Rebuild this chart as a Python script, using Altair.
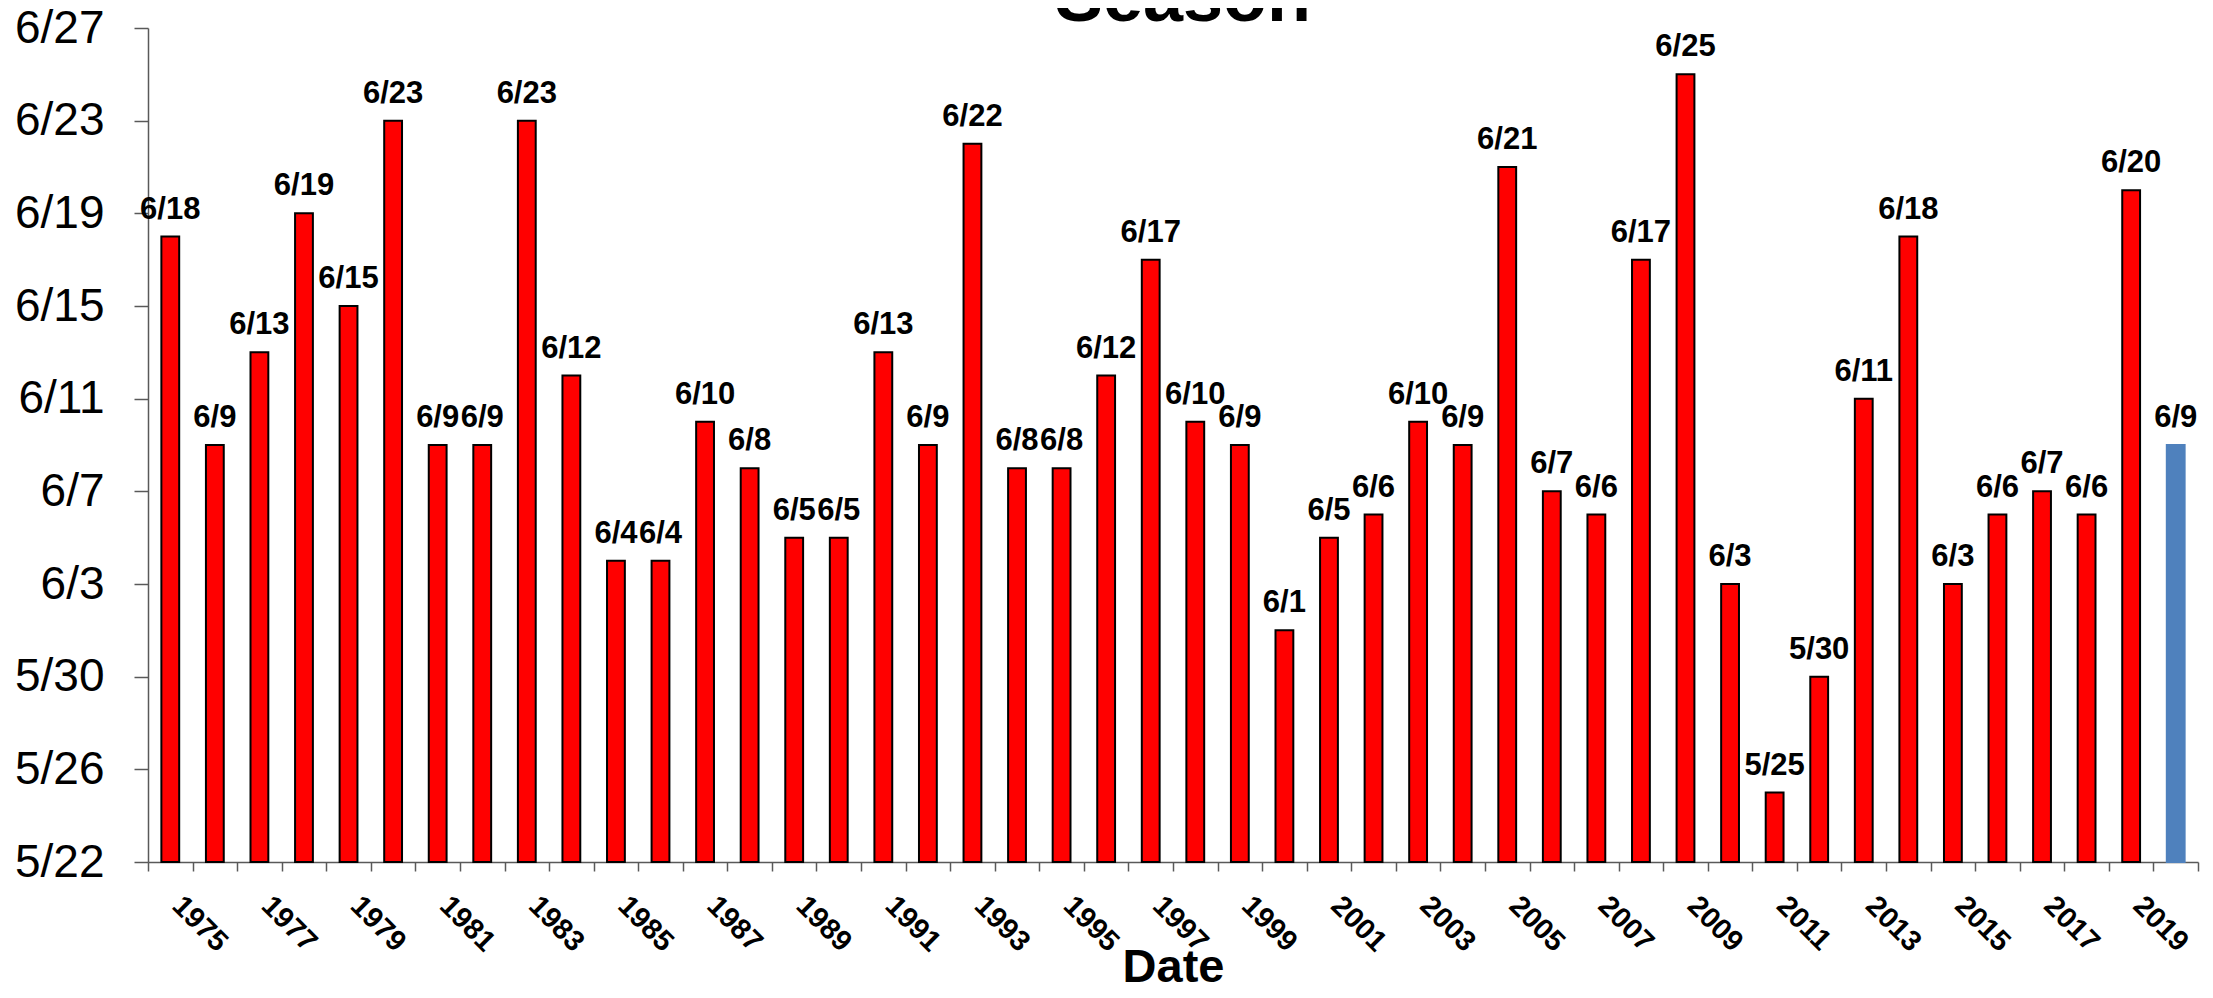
import altair as alt
import pandas as pd

# ---- data ----
title_text = ["Season"]
years = list(range(1975, 2021))
dates = ["6/18", "6/9", "6/13", "6/19", "6/15", "6/23", "6/9", "6/9", "6/23", "6/12",
         "6/4", "6/4", "6/10", "6/8", "6/5", "6/5", "6/13", "6/9", "6/22", "6/8",
         "6/8", "6/12", "6/17", "6/10", "6/9", "6/1", "6/5", "6/6", "6/10", "6/9",
         "6/21", "6/7", "6/6", "6/17", "6/25", "6/3", "5/25", "5/30", "6/11", "6/18",
         "6/3", "6/6", "6/7", "6/6", "6/20", "6/9"]
current_year = 2020
y_ticks = ["5/22", "5/26", "5/30", "6/3", "6/7", "6/11", "6/15", "6/19", "6/23", "6/27"]


def iso(md):
    m, d = md.split("/")
    return f"2000-{int(m):02d}-{int(d):02d}"


def dt(md):
    m, d = md.split("/")
    return alt.DateTime(year=2000, month=int(m), date=int(d), utc=True)


df = pd.DataFrame({
    "year": years,
    "date": [iso(x) for x in dates],
    "label": dates,
    "series": ["Current" if y == current_year else "Past" for y in years],
})

FONT = "Liberation Sans"
AXIS_COLOR = "#595959"
W, H = 2050, 834

x_enc = alt.X(
    "year:O",
    scale=alt.Scale(paddingInner=0, paddingOuter=0),
    axis=alt.Axis(
        title="Date",
        labelExpr="datum.value % 2 == 1 ? datum.label : ''",
        labelAngle=45,
        labelAlign="left",
        labelBaseline="alphabetic",
        labelFont=FONT,
        labelFontWeight="bold",
        labelFontSize=29,
        labelColor="black",
        labelPadding=36,
        labelOverlap=False,
        labelBound=False,
        tickSize=9,
        tickBand="extent",
        tickColor=AXIS_COLOR,
        tickWidth=1.5,
        domainColor=AXIS_COLOR,
        domainWidth=1.5,
        grid=False,
        titleFont=FONT,
        titleFontSize=47,
        titleFontWeight="bold",
        titleColor="black",
        titleBaseline="alphabetic",
        titleY=119,
    ),
)

y_enc = alt.Y(
    "date:T",
    scale=alt.Scale(type="utc", domain=[dt(y_ticks[0]), dt(y_ticks[-1])], nice=False),
    axis=alt.Axis(
        title=None,
        values=[dt(t) for t in y_ticks],
        format="%-m/%-d",
        labelFont=FONT,
        labelFontSize=46,
        labelColor="black",
        labelPadding=30,
        labelOverlap=False,
        tickSize=14,
        tickColor=AXIS_COLOR,
        tickWidth=1.5,
        domainColor=AXIS_COLOR,
        domainWidth=1.5,
        grid=False,
    ),
)

bars = alt.Chart(df).mark_bar(
    width=alt.RelativeBandSize(0.4), strokeWidth=2
).encode(
    x=x_enc,
    y=y_enc,
    y2=alt.Y2Datum(dt(y_ticks[0])),
    color=alt.Color("series:N", scale=alt.Scale(domain=["Past", "Current"],
                                                 range=["#FF0000", "#4F81BD"]), legend=None),
    stroke=alt.Stroke("series:N", scale=alt.Scale(domain=["Past", "Current"],
                                                   range=["#000000", "#4F81BD"]), legend=None),
)

labels = alt.Chart(df).mark_text(
    baseline="alphabetic", align="center", dy=-18,
    font=FONT, fontWeight="bold", fontSize=31, color="black"
).encode(
    x=x_enc,
    y=y_enc,
    text="label:N",
)

# chart title, partly cut off at the top edge as in the reference
title = alt.Chart(pd.DataFrame({"t": title_text})).mark_text(
    baseline="alphabetic", align="center",
    font=FONT, fontWeight="bold", fontSize=72, color="black"
).encode(
    text="t:N",
    x=alt.value(W / 2 + 10),
    y=alt.value(-7),
)

chart = alt.layer(bars, labels, title).properties(
    width=W,
    height=H,
    autosize=alt.AutoSizeParams(type="none"),
    padding={"left": 140, "top": 20, "right": 5, "bottom": 122},
).configure_view(stroke=None)

chart.save("out.html", embed_options={"renderer": "svg", "actions": False})
